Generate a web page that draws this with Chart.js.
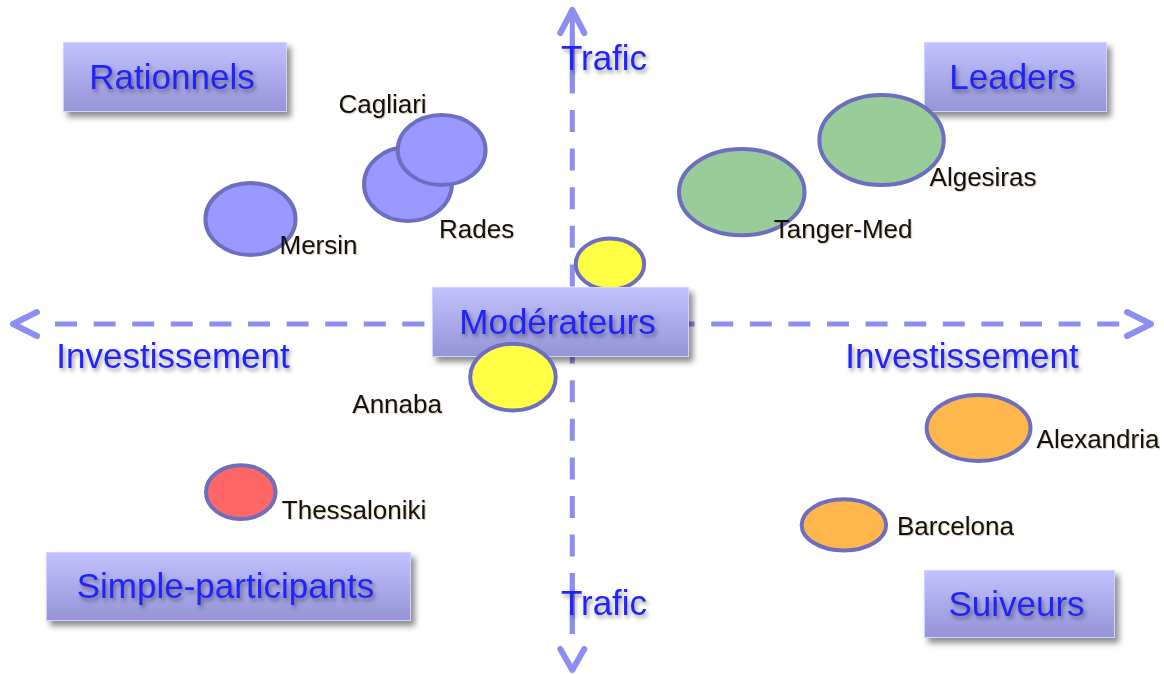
<!DOCTYPE html>
<html>
<head>
<meta charset="utf-8">
<script src="https://cdn.jsdelivr.net/npm/chart.js@4.4.1/dist/chart.umd.min.js"></script>
<style>
html, body { margin: 0; padding: 0; background: #fff; }
#wrap { width: 1164px; height: 674px; }
</style>
</head>
<body>
<div id="wrap"><canvas id="chart"></canvas></div>
<script>
// Ports (le port sans nom est la bulle jaune au-dessus des Modérateurs)
const ports = ['Mersin', 'Rades', 'Cagliari', 'Tanger-Med', 'Algesiras', '', 'Annaba', 'Thessaloniki', 'Alexandria', 'Barcelona'];
const investissement = [-5.64, -2.88, -2.29, 2.97, 5.42, 0.66, -1.04, -5.81, 7.12, 4.76];
const trafic = [3.24, 4.32, 5.37, 4.07, 5.68, 1.85, -1.64, -5.19, -3.21, -6.20];
// demi-axes des bulles, en unités des axes
const tailleX = [0.79, 0.77, 0.77, 1.10, 1.09, 0.60, 0.75, 0.61, 0.91, 0.74];
const tailleY = [1.11, 1.14, 1.08, 1.33, 1.39, 0.79, 1.03, 0.83, 1.02, 0.79];
const groupe = ['Rationnels', 'Rationnels', 'Rationnels', 'Leaders', 'Leaders', 'Modérateurs', 'Modérateurs', 'Simple-participants', 'Suiveurs', 'Suiveurs'];

const quadrants = ['Rationnels', 'Leaders', 'Modérateurs', 'Simple-participants', 'Suiveurs'];
const axeX = 'Investissement';
const axeY = 'Trafic';

// Styles
const couleurs = {
    'Rationnels': '#9999ff',
    'Leaders': '#99cc99',
    'Modérateurs': '#ffff44',
    'Simple-participants': '#ff6666',
    'Suiveurs': '#ffb74d'
};
const contour = '#6e6ec0';
const bleuAxe = '#8e8ef2';
const bleuTexte = '#2222ff';
const police = '"Liberation Sans", Arial, sans-serif';

// Mise en page (pixels)
const boites = {
    'Rationnels': [63, 42, 224, 70],
    'Leaders': [924, 42, 183, 70],
    'Modérateurs': [432, 287, 257, 70],
    'Simple-participants': [46, 552, 365, 69],
    'Suiveurs': [924, 570, 191, 68]
};
const etiquettes = {
    'Mersin': [29, 28, 'left'],
    'Rades': [31, 47, 'left'],
    'Cagliari': [-15, -44, 'right'],
    'Tanger-Med': [32, 39, 'left'],
    'Algesiras': [48, 39, 'left'],
    'Annaba': [-71, 29, 'right'],
    'Thessaloniki': [41, 20, 'left'],
    'Alexandria': [58, 13, 'left'],
    'Barcelona': [53, 3, 'left']
};

function dessinerBulle(ctx, sx, sy, i) {
    const x = sx.getPixelForValue(investissement[i]);
    const y = sy.getPixelForValue(trafic[i]);
    const rx = Math.abs(sx.getPixelForValue(investissement[i] + tailleX[i]) - x);
    const ry = Math.abs(sy.getPixelForValue(trafic[i] + tailleY[i]) - y);
    ctx.save();
    ctx.beginPath();
    ctx.ellipse(x, y, rx, ry, 0, 0, Math.PI * 2);
    ctx.fillStyle = couleurs[groupe[i]];
    ctx.fill();
    ctx.lineWidth = 4;
    ctx.strokeStyle = contour;
    ctx.stroke();
    ctx.restore();
}

function dessinerBoite(ctx, nom) {
    const [x, y, w, h] = boites[nom];
    ctx.save();
    const g = ctx.createLinearGradient(0, y, 0, y + h);
    g.addColorStop(0, '#c2c2ff');
    g.addColorStop(1, '#9494d6');
    ctx.shadowColor = 'rgba(0,0,0,0.45)';
    ctx.shadowOffsetX = 4;
    ctx.shadowOffsetY = 5;
    ctx.shadowBlur = 6;
    ctx.fillStyle = g;
    ctx.fillRect(x, y, w, h);
    ctx.shadowColor = 'transparent';
    ctx.lineWidth = 1;
    ctx.strokeStyle = '#d2d2ff';
    ctx.strokeRect(x + 0.5, y + 0.5, w - 1, h - 1);
    texteBleu(ctx, nom, x + w / 2 - 3, y + h / 2);
    ctx.restore();
}

function texteBleu(ctx, texte, x, y) {
    ctx.save();
    ctx.font = '35px ' + police;
    ctx.textAlign = 'center';
    ctx.textBaseline = 'middle';
    ctx.shadowColor = 'rgba(0,0,0,0.4)';
    ctx.shadowOffsetX = 2;
    ctx.shadowOffsetY = 3;
    ctx.shadowBlur = 4;
    ctx.fillStyle = bleuTexte;
    ctx.fillText(texte, x, y + 2);
    ctx.restore();
}

function chevron(ctx, pts) {
    ctx.beginPath();
    ctx.moveTo(pts[0][0], pts[0][1]);
    ctx.lineTo(pts[1][0], pts[1][1]);
    ctx.lineTo(pts[2][0], pts[2][1]);
    ctx.stroke();
}

const quadrantPlugin = {
    id: 'quadrant',
    beforeDatasetsDraw(chart) {
        const ctx = chart.ctx;
        const sx = chart.scales.x, sy = chart.scales.y;
        const cx = sx.getPixelForValue(0);
        const cy = sy.getPixelForValue(0);
        ctx.save();
        ctx.strokeStyle = bleuAxe;
        ctx.lineWidth = 5;
        ctx.setLineDash([22, 16.6]);
        ctx.beginPath();
        ctx.moveTo(55, cy);
        ctx.lineTo(1122, cy);
        ctx.stroke();
        ctx.beginPath();
        ctx.moveTo(cx, 32.8);
        ctx.lineTo(cx, 640);
        ctx.stroke();
        ctx.setLineDash([]);
        // traits pleins derrière les "T" de Trafic
        ctx.beginPath();
        ctx.moveTo(cx, 10); ctx.lineTo(cx, 93);
        ctx.moveTo(cx, 573); ctx.lineTo(cx, 634);
        ctx.stroke();
        ctx.lineWidth = 6;
        ctx.lineCap = 'round';
        ctx.lineJoin = 'round';
        chevron(ctx, [[37, cy - 12], [13, cy], [37, cy + 12]]);
        chevron(ctx, [[1127, cy - 12], [1151, cy], [1127, cy + 12]]);
        chevron(ctx, [[cx - 12, 33], [cx, 10], [cx + 12, 33]]);
        chevron(ctx, [[cx - 12, 649], [cx, 670], [cx + 12, 649]]);
        ctx.restore();

        texteBleu(ctx, axeY, 604, 58);
        texteBleu(ctx, axeY, 604, 603);
        texteBleu(ctx, axeX, 173, 356);
        texteBleu(ctx, axeX, 962, 356);
    },
    afterDatasetsDraw(chart) {
        const ctx = chart.ctx;
        const sx = chart.scales.x, sy = chart.scales.y;
        // la bulle sans nom passe sous la boîte Modérateurs
        ports.forEach((p, i) => { if (p === '') dessinerBulle(ctx, sx, sy, i); });
        quadrants.forEach(q => dessinerBoite(ctx, q));
        ports.forEach((p, i) => { if (p !== '') dessinerBulle(ctx, sx, sy, i); });

        ctx.save();
        ctx.font = '26px ' + police;
        ctx.textBaseline = 'middle';
        ctx.fillStyle = '#111';
        ctx.shadowColor = 'rgba(140,90,0,0.35)';
        ctx.shadowOffsetX = 1;
        ctx.shadowOffsetY = 1;
        ctx.shadowBlur = 1;
        ports.forEach((p, i) => {
            if (!etiquettes[p]) return;
            const [dx, dy, align] = etiquettes[p];
            ctx.textAlign = align;
            ctx.fillText(p, sx.getPixelForValue(investissement[i]) + dx, sy.getPixelForValue(trafic[i]) + dy);
        });
        ctx.restore();
    }
};

new Chart(document.getElementById('chart'), {
    type: 'scatter',
    data: {
        datasets: [{
            label: 'Ports',
            data: investissement.map((v, i) => ({ x: v, y: trafic[i] })),
            pointRadius: 0,
            pointHoverRadius: 0
        }]
    },
    options: {
        responsive: true,
        maintainAspectRatio: false,
        animation: false,
        layout: { padding: 0 },
        scales: {
            x: { display: false, min: -10.03, max: 10.37 },
            y: { display: false, min: -10.8, max: 10 }
        },
        plugins: {
            legend: { display: false },
            tooltip: { enabled: false }
        }
    },
    plugins: [quadrantPlugin]
});
</script>
</body>
</html>
